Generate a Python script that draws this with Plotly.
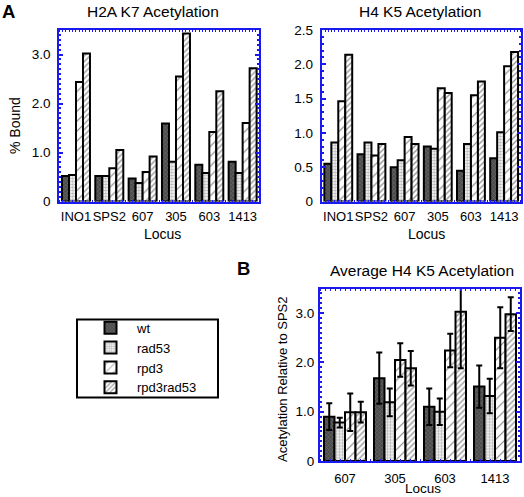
import plotly.graph_objects as go

# ---------------- data ----------------
loci_a = ["INO1", "SPS2", "607", "305", "603", "1413"]
loci_b = ["607", "305", "603", "1413"]
strains = ["wt", "rad53", "rpd3", "rpd3rad53"]

h2a_wt = [0.52, 0.52, 0.47, 1.59, 0.75, 0.81]
h2a_rad53 = [0.54, 0.52, 0.38, 0.81, 0.58, 0.58]
h2a_rpd3 = [2.44, 0.68, 0.60, 2.55, 1.42, 1.60]
h2a_rpd3rad53 = [3.02, 1.05, 0.92, 3.43, 2.25, 2.72]

h4_wt = [0.55, 0.69, 0.50, 0.80, 0.45, 0.63]
h4_rad53 = [0.86, 0.86, 0.60, 0.77, 0.84, 1.01]
h4_rpd3 = [1.46, 0.67, 0.94, 1.65, 1.55, 1.97]
h4_rpd3rad53 = [2.14, 0.84, 0.84, 1.58, 1.75, 2.18]

avg_wt = [0.90, 1.68, 1.10, 1.51]
avg_rad53 = [0.78, 1.19, 1.00, 1.32]
avg_rpd3 = [0.99, 2.05, 2.24, 2.50]
avg_rpd3rad53 = [0.99, 1.88, 3.03, 2.98]
err_wt = [0.27, 0.52, 0.37, 0.43]
err_rad53 = [0.10, 0.28, 0.27, 0.35]
err_rpd3 = [0.38, 0.34, 0.34, 0.62]
err_rpd3rad53 = [0.21, 0.35, 1.15, 0.34]

# ---------------- styles ----------------
patterns = {
    "wt": dict(shape="x", bgcolor="#4a4a4a", fgcolor="#a0a0a0", size=3, solidity=0.3),
    "rad53": dict(shape=".", bgcolor="#ffffff", fgcolor="#707070", size=3, solidity=0.5),
    "rpd3": dict(shape="/", bgcolor="#ffffff", fgcolor="#000000", size=7, solidity=0.15),
    "rpd3rad53": dict(shape="/", bgcolor="#ffffff", fgcolor="#303030", size=4, solidity=0.35),
}

W, H = 524, 497
FONT = "Liberation Sans, Arial, sans-serif"
BLUE = "#1a1aee"

def px_x(x):
    return x / W

def px_y(y):
    return 1 - y / H

fig = go.Figure()

panels = [
    ("x", "y", loci_a, [h2a_wt, h2a_rad53, h2a_rpd3, h2a_rpd3rad53], None, True),
    ("x2", "y2", loci_a, [h4_wt, h4_rad53, h4_rpd3, h4_rpd3rad53], None, False),
    ("x3", "y3", loci_b, [avg_wt, avg_rad53, avg_rpd3, avg_rpd3rad53],
     [err_wt, err_rad53, err_rpd3, err_rpd3rad53], False),
]

for xa, ya, cats, series, errs, show in panels:
    xs = list(range(len(cats)))
    for i, s in enumerate(strains):
        kw = {}
        if errs is not None:
            kw["error_y"] = dict(type="data", array=errs[i], visible=True,
                                 color="black", thickness=2, width=3)
        fig.add_trace(go.Bar(
            x=xs, y=series[i], name=s, xaxis=xa, yaxis=ya,
            legendgroup=s, showlegend=show,
            marker=dict(color=patterns[s]["bgcolor"],
                        line=dict(color="black", width=2),
                        pattern=patterns[s]),
            **kw))

def xaxis(dom, cats, anchor, standoff=0):
    return dict(domain=dom, range=[-0.5, len(cats) - 0.5], anchor=anchor,
                tickvals=list(range(len(cats))), ticktext=cats, tickangle=0,
                ticklabelstandoff=standoff,
                showline=True, linecolor=BLUE, linewidth=2, mirror="allticks",
                ticks="", showgrid=False, zeroline=False,
                minor=dict(ticks="inside", ticklen=2, tickcolor=BLUE, dtick=0.1, showgrid=False),
                tickfont=dict(size=13, color="black", family=FONT))

def yaxis(dom, rng, tv, tt, anchor, standoff=0):
    return dict(domain=dom, range=rng, anchor=anchor,
                tickvals=tv, ticktext=tt, ticklabelstandoff=standoff,
                showline=True, linecolor=BLUE, linewidth=2, mirror="allticks",
                ticks="inside", ticklen=4, tickcolor=BLUE, tickwidth=2,
                showgrid=False, zeroline=False,
                minor=dict(ticks="inside", ticklen=2, tickcolor=BLUE, dtick=0.1, showgrid=False),
                tickfont=dict(size=13.5, color="black", family=FONT))

top_a, bot_a = px_y(30), px_y(201.5)
top_b, bot_b = px_y(288.5), px_y(461)

fig.update_layout(
    width=W, height=H,
    margin=dict(l=0, r=0, t=0, b=0, autoexpand=False),
    paper_bgcolor="white", plot_bgcolor="white",
    barmode="group", bargap=0.16, bargroupgap=0,
    font=dict(family=FONT, color="black", size=14),
    xaxis=xaxis([px_x(59.3), px_x(259.3)], loci_a, "y", 2),
    yaxis=yaxis([bot_a, top_a], [0, 3.5], [0, 1, 2, 3], ["0", "1.0", "2.0", "3.0"], "x", 4),
    xaxis2=xaxis([px_x(321.7), px_x(520.7)], loci_a, "y2", 2),
    yaxis2=yaxis([bot_a, top_a], [0, 2.5], [0, 0.5, 1, 1.5, 2, 2.5],
                 ["0", "0.5", "1.0", "1.5", "2.0", "2.5"], "x2", 4),
    xaxis3=xaxis([px_x(320), px_x(520)], loci_b, "y3", 4),
    yaxis3=yaxis([bot_b, top_b], [0, 3.5], [0, 1, 2, 3], ["0", "1.0", "2.0", "3.0"], "x3", 1),
    legend=dict(x=px_x(84), y=px_y(312.7), xanchor="left", yanchor="top",
                borderwidth=0, bgcolor="rgba(0,0,0,0)",
                font=dict(size=13, family=FONT), itemwidth=43,
                tracegroupgap=0),
    shapes=[dict(type="rect", xref="paper", yref="paper",
                 x0=px_x(77), x1=px_x(218), y0=px_y(397.5), y1=px_y(319.5),
                 line=dict(color="black", width=2), fillcolor="rgba(0,0,0,0)",
                 layer="above")],
)

ann = [
    dict(text="<b>A</b>", x=8.5, y=11.5, size=18.5),
    dict(text="<b>B</b>", x=243.5, y=268, size=18.5),
    dict(text="H2A K7 Acetylation", x=153, y=11, size=15.5),
    dict(text="H4 K5 Acetylation", x=420, y=11, size=15.5),
    dict(text="Average H4 K5 Acetylation", x=422, y=270, size=15.5),
    dict(text="Locus", x=162, y=234, size=14),
    dict(text="Locus", x=426, y=234, size=14),
    dict(text="% Bound", x=15, y=126, size=14, angle=-90),
    dict(text="Acetylation Relative to SPS2", x=282, y=380, size=13, angle=-90),
]
for a in ann:
    fig.add_annotation(text=a["text"], x=px_x(a["x"]), y=px_y(a["y"]),
                       xref="paper", yref="paper", showarrow=False,
                       xanchor="center", yanchor="middle",
                       textangle=a.get("angle", 0),
                       font=dict(size=a["size"], family=FONT, color="black"))

fig.add_annotation(text="Locus", x=px_x(423), y=0, xref="paper", yref="paper",
                   showarrow=False, xanchor="center", yanchor="bottom", borderpad=0,
                   font=dict(size=13.5, family=FONT, color="black"))

fig.write_html("out.html", config={"displayModeBar": False},
               post_script="document.body.style.margin='0';document.body.style.overflow='hidden';")
